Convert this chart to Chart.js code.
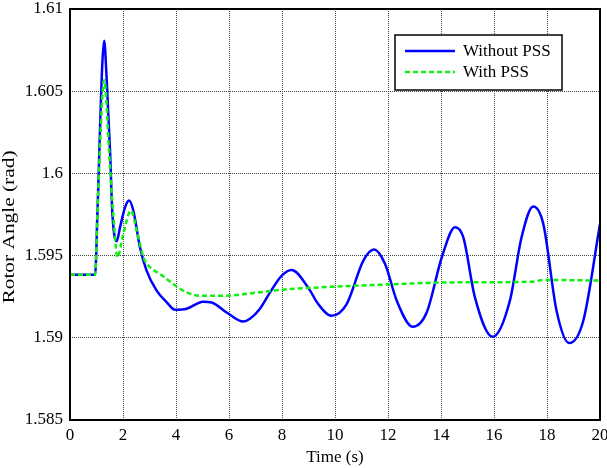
<!DOCTYPE html>
<html>
<head>
<meta charset="utf-8">
<script src="https://cdn.jsdelivr.net/npm/chart.js@4"></script>
<style>
  html, body { margin: 0; padding: 0; background: #fff; }
  #wrap { width: 607px; height: 468px; }
</style>
</head>
<body>
<div id="wrap"><canvas id="chart" width="607" height="468"></canvas></div>
<script>
// time (s) and rotor angle (rad)
const timeWithout = [0, 0.95, 1.03, 1.22, 1.29, 1.38, 1.51, 1.60, 1.76, 1.89, 2.08, 2.23, 2.39, 2.64, 2.89, 3.27, 3.65, 3.96, 4.4, 5.02, 5.35, 5.91, 6.54, 6.79, 7.17, 7.55, 7.99, 8.36, 9.06, 9.32, 9.87, 10.44, 11.07, 11.47, 11.89, 12.33, 12.93, 13.46, 14.03, 14.53, 14.84, 15.28, 15.95, 16.6, 17.04, 17.48, 17.86, 18.36, 18.84, 19.37, 20];
const angleWithout = [1.59384, 1.59384, 1.59734, 1.60669, 1.60807, 1.60587, 1.6014, 1.59754, 1.59587, 1.59673, 1.59795, 1.59835, 1.59774, 1.59551, 1.59409, 1.59287, 1.59216, 1.59171, 1.59177, 1.5922, 1.59215, 1.59154, 1.59099, 1.59116, 1.59177, 1.59276, 1.59378, 1.59413, 1.59287, 1.59216, 1.59134, 1.59205, 1.5947, 1.59537, 1.59449, 1.59226, 1.59067, 1.59154, 1.5949, 1.59673, 1.59612, 1.59246, 1.59006, 1.59226, 1.59612, 1.59799, 1.59693, 1.59165, 1.58968, 1.59104, 1.59693];

const timeWith = [0, 0.95, 1.03, 1.22, 1.29, 1.51, 1.64, 1.79, 2.01, 2.30, 2.52, 2.77, 3.02, 3.40, 3.90, 4.40, 4.91, 5.91, 6.79, 8.05, 9.94, 11.83, 14.34, 17.47, 17.85, 20];
const angleWith = [1.59384, 1.59384, 1.59734, 1.60465, 1.60567, 1.60038, 1.59734, 1.5949, 1.59632, 1.59774, 1.59652, 1.5949, 1.59429, 1.59388, 1.59327, 1.59276, 1.59256, 1.59256, 1.5927, 1.59293, 1.59311, 1.59323, 1.59337, 1.59341, 1.59352, 1.59348];

const xTicks = [0, 2, 4, 6, 8, 10, 12, 14, 16, 18, 20];
const yTicks = [1.585, 1.59, 1.595, 1.6, 1.605, 1.61];
const yTitle = "Rotor Angle (rad)";

const FONT = "'Liberation Serif', 'Times New Roman', serif";

function toPoints(xs, ys) {
  return xs.map((x, i) => ({ x: x, y: ys[i] }));
}

// box around the plot area, like matlab
const framePlugin = {
  id: "frame",
  afterDatasetsDraw(chart) {
    const { ctx, chartArea: a } = chart;
    ctx.save();
    ctx.strokeStyle = "#000";
    ctx.lineWidth = 2;
    ctx.strokeRect(a.left, a.top, a.right - a.left, a.bottom - a.top);
    ctx.restore();
  },
};

// y title is stretched along its length in the original, so draw it by hand
const yTitlePlugin = {
  id: "yTitle",
  afterDraw(chart) {
    const ctx = chart.ctx;
    ctx.save();
    ctx.font = "16px " + FONT;
    const w = ctx.measureText(yTitle).width;
    ctx.translate(10, 227);
    ctx.rotate(-Math.PI / 2);
    ctx.scale(153 / w, 1);
    ctx.fillStyle = "#000";
    ctx.textAlign = "center";
    ctx.textBaseline = "middle";
    ctx.fillText(yTitle, 0, 0);
    ctx.restore();
  },
};

// legend box in the upper right corner of the plot
const boxLegend = {
  id: "boxLegend",
  afterDraw(chart) {
    const ctx = chart.ctx;
    const x = 395, y = 35, w = 167, h = 55;
    ctx.save();
    ctx.fillStyle = "#fff";
    ctx.fillRect(x, y, w, h);
    ctx.strokeStyle = "#000";
    ctx.lineWidth = 1.5;
    ctx.strokeRect(x, y, w, h);
    ctx.font = "17px " + FONT;
    ctx.textBaseline = "middle";
    chart.data.datasets.forEach((ds, i) => {
      const ly = y + 16 + i * 21;
      ctx.strokeStyle = ds.borderColor;
      ctx.lineWidth = ds.borderWidth;
      ctx.setLineDash(ds.borderDash || []);
      ctx.beginPath();
      ctx.moveTo(x + 10, ly);
      ctx.lineTo(x + 60, ly);
      ctx.stroke();
      ctx.setLineDash([]);
      ctx.fillStyle = "#000";
      ctx.fillText(ds.label, x + 68, ly + 1);
    });
    ctx.restore();
  },
};

new Chart(document.getElementById("chart"), {
  type: "line",
  data: {
    datasets: [
      {
        label: "Without PSS",
        data: toPoints(timeWithout, angleWithout),
        borderColor: "#0000ff",
        borderWidth: 2.5,
        pointRadius: 0,
        cubicInterpolationMode: "monotone",
        order: 1,
      },
      {
        label: "With PSS",
        data: toPoints(timeWith, angleWith),
        borderColor: "#11ee11",
        borderWidth: 2.5,
        borderDash: [5, 3],
        pointRadius: 0,
        cubicInterpolationMode: "monotone",
        order: 0,
      },
    ],
  },
  options: {
    responsive: false,
    animation: false,
    layout: { padding: { top: 9, right: 7, left: 0, bottom: 0 } },
    plugins: { legend: { display: false }, tooltip: { enabled: false } },
    scales: {
      x: {
        type: "linear",
        min: 0,
        max: 20,
        afterBuildTicks: (s) => { s.ticks = xTicks.map((v) => ({ value: v })); },
        afterFit: (s) => { s.height = 48; s.paddingLeft = 0; s.paddingRight = 0; },
        ticks: { color: "#000", font: { family: FONT, size: 17 }, padding: 5, maxRotation: 0 },
        grid: { color: "#444", lineWidth: 1, drawTicks: false },
        border: { display: false, dash: [1, 1] },
        title: { display: true, text: "Time (s)", color: "#000", font: { family: FONT, size: 17 }, padding: { top: 0, bottom: 0 } },
      },
      y: {
        min: 1.585,
        max: 1.61,
        afterBuildTicks: (s) => { s.ticks = yTicks.map((v) => ({ value: v })); },
        afterFit: (s) => { s.width = 70; s.paddingTop = 0; s.paddingBottom = 0; },
        ticks: { color: "#000", font: { family: FONT, size: 17 }, padding: 7, callback: (v) => String(Number(v.toFixed(3))) },
        grid: { color: "#444", lineWidth: 1, drawTicks: false },
        border: { display: false, dash: [1, 1] },
      },
    },
  },
  plugins: [framePlugin, yTitlePlugin, boxLegend],
});
</script>
</body>
</html>
